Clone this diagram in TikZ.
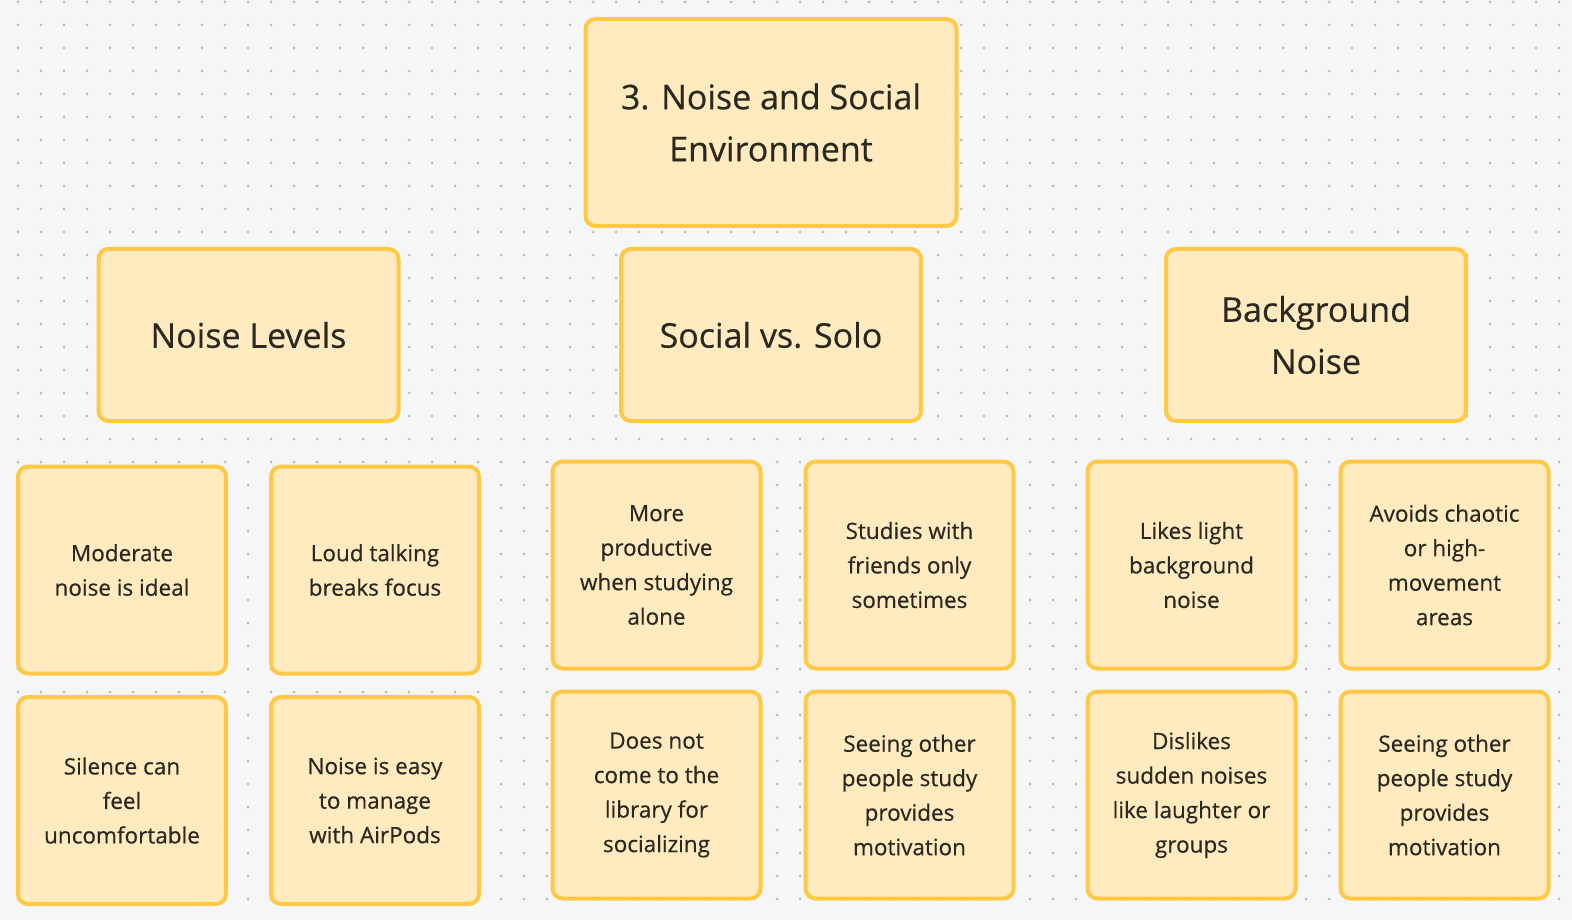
\documentclass[tikz,border=0pt]{standalone}
\usepackage{fontspec}
\setmainfont{Open Sans}[FakeBold=0.5]
\usepackage{xcolor}
\usetikzlibrary{positioning}

\definecolor{boardbg}{HTML}{F5F6F7}
\definecolor{griddot}{HTML}{B9BBBE}
\definecolor{stickyfill}{HTML}{FFEBBF}
\definecolor{stickyedge}{HTML}{FFC845}
\definecolor{inktext}{HTML}{2B2820}

\begin{document}
\begin{tikzpicture}[
    x=1pt, y=-1pt,
    sticky/.style={rectangle, draw=stickyedge, fill=stickyfill, line width=4pt, rounded corners=10pt, align=center, text=inktext, inner sep=0pt},
    topic/.style={sticky, minimum width=371pt, minimum height=207pt, font=\fontsize{34}{52}\selectfont},
    theme/.style={sticky, minimum width=300pt, minimum height=172pt, font=\fontsize{34}{52}\selectfont},
    note/.style={sticky, minimum width=208pt, minimum height=207pt, font=\fontsize{22.5}{34.5}\selectfont}
]

% Board with dot grid
\fill[boardbg] (0,0) rectangle (1572,920);
\useasboundingbox (0,0) rectangle (1572,920);
\foreach \gx in {0,...,67} {
  \foreach \gy in {0,...,39} {
    \fill[griddot] (18+23*\gx, 2+23*\gy) circle (1.5pt);
  }
}

% Title
\node[topic] (title) at (771,122.5) {3. Noise and Social\\Environment};

% Themes
\node[theme] (levels) at (248.5,335) {Noise Levels};
\node[theme] (social) at (771,335) {Social vs. Solo};
\node[theme] (background) at (1316,335) {Background\\Noise};

% Noise Levels notes
\node[note] (moderate) at (122,570) {Moderate\\noise is ideal};
\node[note] (loud) at (375,570) {Loud talking\\breaks focus};
\node[note] (silence) at (122,800.5) {Silence can\\feel\\uncomfortable};
\node[note] (airpods) at (375,800.5) {Noise is easy\\to manage\\with AirPods};

% Social vs. Solo notes
\node[note] (alone) at (656.5,565) {More\\productive\\when studying\\alone};
\node[note] (friends) at (909.5,565) {Studies with\\friends only\\sometimes};
\node[note] (socializing) at (656.5,795) {Does not\\come to the\\library for\\socializing};
\node[note] (motivation) at (909.5,795) {Seeing other\\people study\\provides\\motivation};

% Background Noise notes
\node[note] (light) at (1191.5,565) {Likes light\\background\\noise};
\node[note] (chaotic) at (1444.5,565) {Avoids chaotic\\or high-\\movement\\areas};
\node[note] (sudden) at (1191.5,795) {Dislikes\\sudden noises\\like laughter or\\groups};
\node[note] (others) at (1444.5,795) {Seeing other\\people study\\provides\\motivation};

\end{tikzpicture}
\end{document}
